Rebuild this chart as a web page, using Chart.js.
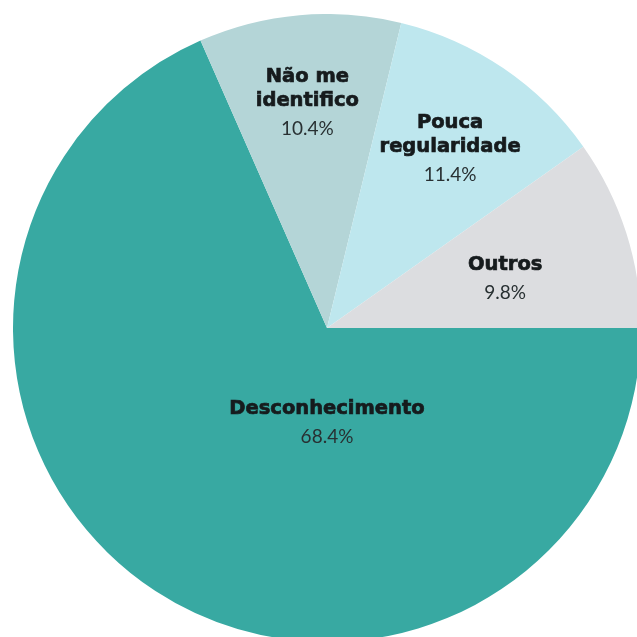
<!DOCTYPE html>
<html>
<head>
<meta charset="utf-8">
<script src="https://cdn.jsdelivr.net/npm/chart.js@4.4.1/dist/chart.umd.min.js"></script>
<style>
  html, body { margin: 0; padding: 0; background: #fff; overflow: hidden; }
  body { width: 637px; height: 637px; position: relative; }
  #pie { position: absolute; left: 13px; top: 14px; }
</style>
</head>
<body>
<canvas id="pie" width="628" height="628"></canvas>
<script>
// Slices, clockwise from 3 o'clock
const labels = [['Desconhecimento'], ['Não me', 'identifico'], ['Pouca', 'regularidade'], ['Outros']];
const values = [68.4, 10.4, 11.4, 9.8];
const colors = ['#38a9a2', '#b4d5d7', '#bee7ee', '#dcdde0'];

// label block centres: fraction of the radius and angle in degrees (0 = 3 o'clock, clockwise)
const labelRadius = [0.301, 0.719, 0.692, 0.589];
const labelAngle = [90, 265, 304.5, 344.5];

const sliceLabels = {
  id: 'sliceLabels',
  afterDatasetsDraw(chart) {
    const ctx = chart.ctx;
    const meta = chart.getDatasetMeta(0);
    ctx.save();
    ctx.textAlign = 'center';
    ctx.textBaseline = 'middle';
    meta.data.forEach((arc, i) => {
      const p = arc.getProps(['x', 'y', 'outerRadius'], true);
      const a = labelAngle[i] * Math.PI / 180;
      const r = p.outerRadius * labelRadius[i];
      const cx = p.x + Math.cos(a) * r;
      const cy = p.y + Math.sin(a) * r;
      const lines = labels[i];
      const lineGap = 24, pctGap = 28;
      const span = (lines.length - 1) * lineGap + pctGap;
      let y = cy - span / 2;
      // titles: bold, slightly thickened with a thin stroke
      ctx.fillStyle = '#161b1d';
      ctx.strokeStyle = '#161b1d';
      ctx.lineWidth = 0.7;
      ctx.font = 'bold 19.5px "DejaVu Sans"';
      lines.forEach((t, k) => {
        ctx.fillText(t, cx, y + k * lineGap);
        ctx.strokeText(t, cx, y + k * lineGap);
      });
      ctx.fillStyle = '#283032';
      ctx.font = '19px Lato';
      ctx.fillText(values[i].toFixed(1) + '%', cx, y + span);
    });
    ctx.restore();
  }
};

new Chart(document.getElementById('pie'), {
  type: 'pie',
  data: {
    labels: labels.map(l => l.join(' ')),
    datasets: [{
      data: values,
      backgroundColor: colors,
      borderWidth: 0,
    }],
  },
  options: {
    responsive: false,
    animation: false,
    rotation: 90,
    layout: { padding: 0 },
    plugins: {
      legend: { display: false },
      tooltip: { enabled: false },
    },
  },
  plugins: [sliceLabels],
});
</script>
</body>
</html>
